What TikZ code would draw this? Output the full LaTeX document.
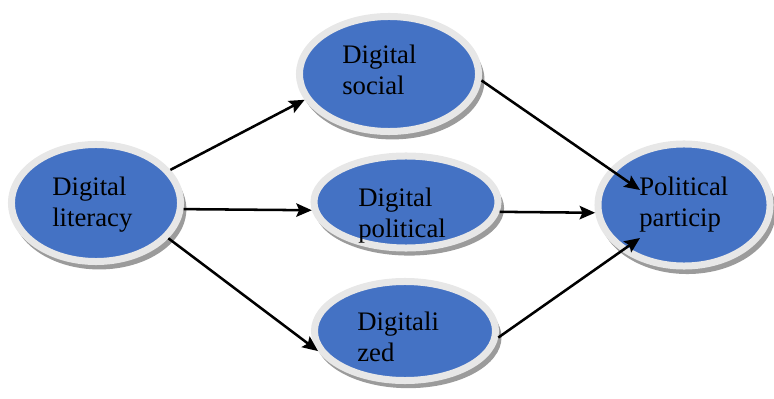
\documentclass[tikz,border=0pt]{standalone}
\usepackage{fontspec}
\setmainfont{Liberation Serif}
\usetikzlibrary{arrows.meta,positioning,shapes.geometric,shadows}
\definecolor{varblue}{HTML}{4472C4}
\definecolor{ringgray}{HTML}{E7E7E7}
\definecolor{shadegray}{HTML}{9B9B9B}

\begin{document}
\begin{tikzpicture}[
  x=0.025cm, y=-0.025cm, >={Stealth[length=11pt,width=9.5pt,inset=2pt]},
  ovalnode/.style={ellipse,fill=varblue,draw=ringgray,line width=0.175cm,inner sep=0pt,
    drop shadow={shadow xshift=0.08cm,shadow yshift=-0.15cm,shadow scale=1.03,fill=shadegray,opacity=1}},
  lbl/.style={anchor=north west,inner sep=0pt,align=left,font=\fontsize{19}{22}\selectfont},
  link/.style={->,line width=1.8pt}
]
\useasboundingbox (0,0) rectangle (774,399);

\node[ovalnode,minimum width=4.225cm,minimum height=2.925cm] (lit) at (96,203) {};
\node[ovalnode,minimum width=4.475cm,minimum height=2.875cm] (soc) at (389,74) {};
\node[ovalnode,minimum width=4.6cm,minimum height=2.3cm] (pol) at (406,202) {};
\node[ovalnode,minimum width=4.525cm,minimum height=2.475cm] (dig) at (405,331) {};
\node[ovalnode,minimum width=4.3cm,minimum height=3.05cm] (pp) at (684,205) {};

\node[lbl] (lit-t) at (52,177) {Digital\\literacy};
\node[lbl] (soc-t) at (342,45) {Digital\\social};
\node[lbl] (pol-t) at (358,188) {Digital\\political};
\node[lbl] (dig-t) at (357,312) {Digitali\\zed};
\node[lbl] (pp-t) at (639,177) {Political\\particip};

\draw[link] (lit.24) -- (soc.197);
\draw[link] (lit.-4) -- (pol.185);
\draw[link] (lit.-26) -- (dig.193);
\draw[link] (soc.-4) -- ([shift={(-44,-15)}]pp.center);
\draw[link] (pol.-6) -- (pp.185);
\draw[link] (dig.-4) -- ([shift={(-44,33)}]pp.center);
\end{tikzpicture}
\end{document}
